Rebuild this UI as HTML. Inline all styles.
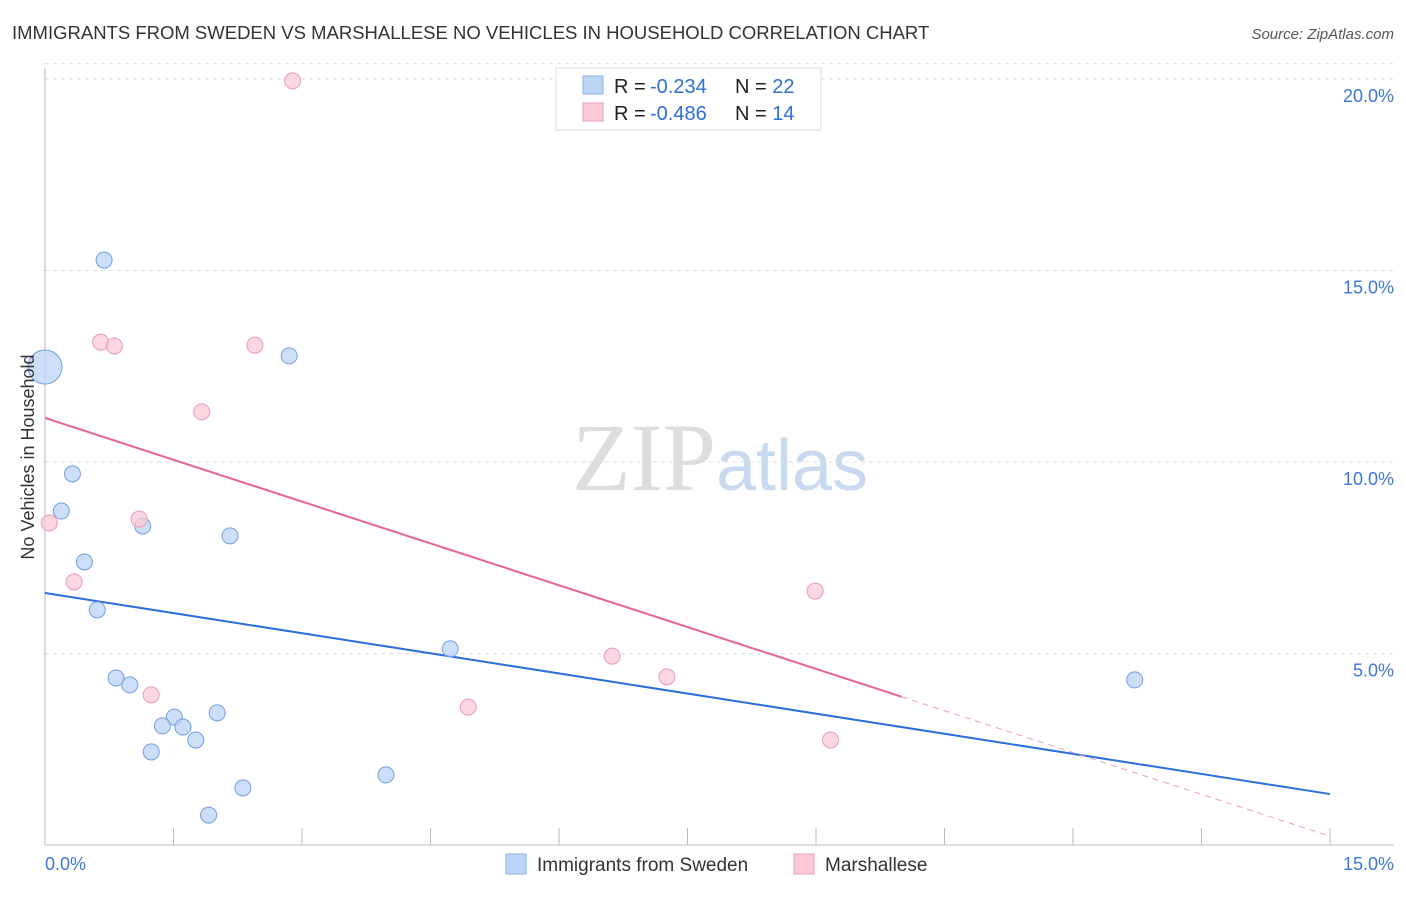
<!DOCTYPE html>
<html><head><meta charset="utf-8"><style>
body{margin:0;background:#fff;font-family:"Liberation Sans",sans-serif}
svg text{font-family:"Liberation Sans",sans-serif}
</style></head><body>
<svg id="chart" width="1406" height="892" xmlns="http://www.w3.org/2000/svg">
<text x="12" y="39" font-size="18.5" fill="#333">IMMIGRANTS FROM SWEDEN VS MARSHALLESE NO VEHICLES IN HOUSEHOLD CORRELATION CHART</text>
<text x="1394" y="39" font-size="15" fill="#555" font-style="italic" text-anchor="end">Source: ZipAtlas.com</text>
<text x="716" y="490" font-size="96" fill="#ddd" text-anchor="end" style="font-family:'Liberation Serif',serif">ZIP</text>
<text x="716" y="490" font-size="72" fill="#c9daf0">atlas</text>
<g id="grid"></g>
<g id="axes"></g>
<g id="lines"></g>
<g id="points"></g>
<text transform="translate(34,457) rotate(-90)" font-size="18" fill="#333" text-anchor="middle">No Vehicles in Household</text>
<rect x="556" y="68" width="265" height="62" fill="#fff" stroke="#ddd"/>
<rect x="583" y="76" width="20" height="18" fill="#bcd4f6" stroke="#8ab0e8"/>
<text x="614" y="93" font-size="20" fill="#222">R = <tspan x="650" fill="#2f6fd6">-0.234</tspan><tspan x="735">N = </tspan><tspan fill="#2f6fd6">22</tspan></text>
<rect x="583" y="103" width="20" height="18" fill="#f9c9d6" stroke="#eda0b6"/>
<text x="614" y="120" font-size="20" fill="#222">R = <tspan x="650" fill="#2f6fd6">-0.486</tspan><tspan x="735">N = </tspan><tspan fill="#2f6fd6">14</tspan></text>
<rect x="506" y="854" width="20" height="20" fill="#bcd4f6" stroke="#8ab0e8"/>
<text x="537" y="871" font-size="19" fill="#333">Immigrants from Sweden</text>
<rect x="794" y="854" width="20" height="20" fill="#f9c9d6" stroke="#eda0b6"/>
<text x="825" y="871" font-size="19" fill="#333">Marshallese</text>
</svg>
<script>
const yTicks=[5,10,15,20];
const yTickLabels=["5.0%","10.0%","15.0%","20.0%"];
const xTickLabels=["0.0%","15.0%"];
const swedenX=[0,0.69,2.85,0.32,0.19,1.14,2.16,0.46,0.61,4.73,0.83,0.99,1.51,1.37,1.61,2.01,1.76,1.24,3.98,2.31,1.91,12.72];
const swedenY=[12.48,15.27,12.77,9.69,8.72,8.33,8.07,7.39,6.14,5.12,4.36,4.18,3.34,3.11,3.08,3.45,2.74,2.43,1.83,1.49,0.78,4.31];
const marshX=[2.89,0.65,0.81,2.45,1.83,0.05,1.10,0.34,1.24,4.94,6.62,7.26,8.99,9.17];
const marshY=[19.95,13.13,13.03,13.05,11.31,8.41,8.51,6.87,3.92,3.60,4.93,4.39,6.63,2.74];
const swedenTrend=[6.58,1.33];
const marshTrend=[11.15,0.23];
const marshSolidEnd=10;
const NS="http://www.w3.org/2000/svg";
const X=v=>45+v*(1285/15);
const Y=v=>845-v*38.3;
function mk(tag,attrs,parent){const e=document.createElementNS(NS,tag);for(const k in attrs)e.setAttribute(k,attrs[k]);document.getElementById(parent).appendChild(e);return e;}
yTicks.forEach((t,i)=>{
 const l=mk('line',{x1:45,x2:1394,y1:Y(t),y2:Y(t),stroke:'#ddd','stroke-dasharray':'4,4'},'grid');
 
 
 const tx=mk('text',{x:1394,y:Y(t)+23,'font-size':18,fill:'#3b78d8','text-anchor':'end'},'axes');
 tx.textContent=yTickLabels[i];
 
 
});
const topGrid=mk('line',{x1:45,x2:1394,y1:Y(20.4),y2:Y(20.4),stroke:'#ddd','stroke-dasharray':'4,4'},'grid');


const yAxisLine=mk('line',{x1:45,x2:45,y1:68,y2:845,stroke:'#bbb'},'axes');


const xAxisLine=mk('line',{x1:45,x2:1394,y1:845,y2:845,stroke:'#bbb'},'axes');


for(let i=1;i<=10;i++){
 const t=mk('line',{x1:X(i*1.5),x2:X(i*1.5),y1:828,y2:845,stroke:'#bbb'},'axes');
 
 
}
[[0,'start',45],[15,'end',1394]].forEach((d,i)=>{
 const tx=mk('text',{x:d[2],y:870,'font-size':18,fill:'#3b78d8','text-anchor':d[1]},'axes');
 tx.textContent=xTickLabels[i];
 
 
});
const lerp=(a,t)=>a[0]+(a[1]-a[0])*t/15;
const bl=mk('line',{x1:X(0),y1:Y(swedenTrend[0]),x2:X(15),y2:Y(swedenTrend[1]),stroke:'#2a6fdc','stroke-width':2},'lines');


const pl=mk('line',{x1:X(0),y1:Y(marshTrend[0]),x2:X(marshSolidEnd),y2:Y(lerp(marshTrend,marshSolidEnd)),stroke:'#e8658e','stroke-width':2},'lines');


const pd=mk('line',{x1:X(marshSolidEnd),y1:Y(lerp(marshTrend,marshSolidEnd)),x2:X(15),y2:Y(marshTrend[1]),stroke:'#e8a0b6','stroke-width':1,'stroke-dasharray':'6,5'},'lines');


swedenX.forEach((v,i)=>{
 const c=mk('circle',{cx:X(v),cy:Y(swedenY[i]),r:i===0?17:8,fill:'#bcd4f6','fill-opacity':0.75,stroke:'#6f9ee0'},'points');
 
 
});
marshX.forEach((v,i)=>{
 const c=mk('circle',{cx:X(v),cy:Y(marshY[i]),r:8,fill:'#f9c9d6','fill-opacity':0.75,stroke:'#e99ab2'},'points');
 
 
});
</script>
</body></html>
